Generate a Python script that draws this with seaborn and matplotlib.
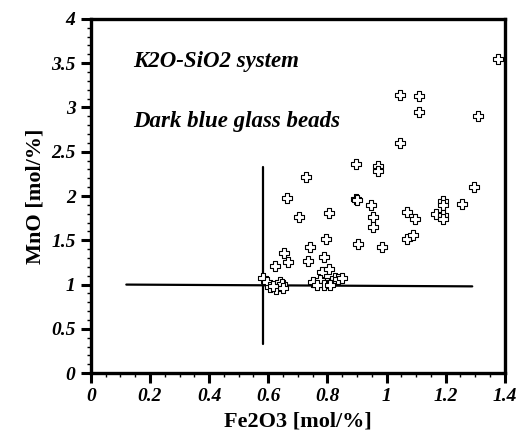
import matplotlib
matplotlib.use("Agg")
import matplotlib.pyplot as plt
import seaborn as sns
import pandas as pd
from matplotlib.ticker import MultipleLocator, FixedLocator

fe2o3 = [1.376, 1.045, 1.11, 1.11, 1.31, 1.047, 0.898, 0.97, 0.97, 0.729,
         0.664, 0.898, 0.90, 0.949, 1.295, 1.257, 1.19, 1.19, 1.166, 1.19,
         1.19, 0.705, 0.807, 0.956, 0.956, 1.068, 1.098, 0.797, 0.905, 0.986,
         1.068, 1.088, 0.742, 0.654, 0.668, 0.624, 0.736, 0.787, 0.783, 0.807,
         0.583, 0.596, 0.607, 0.627, 0.64, 0.647, 0.65, 0.617, 0.753, 0.776,
         0.80, 0.817, 0.827, 0.837, 0.85, 0.79, 0.81, 0.765]
mno = [3.55, 3.14, 3.13, 2.95, 2.90, 2.60, 2.36, 2.34, 2.28, 2.21,
       1.98, 1.97, 1.95, 1.90, 2.10, 1.91, 1.94, 1.90, 1.80, 1.78,
       1.74, 1.76, 1.81, 1.76, 1.65, 1.82, 1.74, 1.51, 1.46, 1.42,
       1.51, 1.56, 1.42, 1.36, 1.25, 1.21, 1.27, 1.31, 1.14, 1.18,
       1.08, 1.03, 0.97, 0.95, 1.03, 1.01, 0.96, 0.98, 1.03, 1.05,
       1.02, 1.03, 1.08, 1.06, 1.07, 1.00, 0.99, 1.00]

hline_x = [0.12, 1.29]
hline_y = [1.0, 0.98]
vline_x = [0.583, 0.583]
vline_y = [0.33, 2.33]

xticks = [0, 0.2, 0.4, 0.6, 0.8, 1.0, 1.2, 1.4]
xticklabels = ["0", "0.2", "0.4", "0.6", "0.8", "1", "1.2", "1.4"]
yticks = [0, 0.5, 1, 1.5, 2, 2.5, 3, 3.5, 4]
yticklabels = ["0", "0.5", "1", "1.5", "2", "2.5", "3", "3.5", "4"]

sns.set_style("ticks", {"axes.edgecolor": "black", "xtick.color": "black",
                        "ytick.color": "black", "text.color": "black",
                        "axes.labelcolor": "black"})
plt.rcParams['font.family'] = ['Liberation Serif', 'DejaVu Serif']

df = pd.DataFrame({"Fe2O3": fe2o3, "MnO": mno})

fig = plt.figure(figsize=(5.22, 4.38), dpi=100)
ax = fig.add_axes([0.174, 0.148, 0.793, 0.809])

sns.scatterplot(data=df, x="Fe2O3", y="MnO", marker="P", s=55,
                facecolor="white", edgecolor="black", linewidth=0.8, ax=ax, zorder=3)

ax.plot(hline_x, hline_y, color="black", lw=1.6, zorder=2)
ax.plot(vline_x, vline_y, color="black", lw=1.6, zorder=2)

ax.set_xlim(0, 1.4)
ax.set_ylim(0, 4)
ax.xaxis.set_major_locator(FixedLocator(xticks))
ax.yaxis.set_major_locator(FixedLocator(yticks))
ax.set_xticklabels(xticklabels, fontsize=14, fontweight="bold", fontstyle="italic")
ax.set_yticklabels(yticklabels, fontsize=14, fontweight="bold", fontstyle="italic")
ax.xaxis.set_minor_locator(MultipleLocator(0.05))
ax.yaxis.set_minor_locator(MultipleLocator(0.1))
ax.tick_params(which="major", direction="out", length=7, width=2.2, pad=4,
               colors="black")
ax.tick_params(which="minor", direction="out", length=3, width=1, colors="black")

for sp in ax.spines.values():
    sp.set_linewidth(2.4)
    sp.set_visible(True)
    sp.set_color("black")

ax.set_xlabel("Fe2O3 [mol/%]", fontsize=16, fontweight="bold", labelpad=4,
              color="black")
ax.set_ylabel("MnO [mol/%]", fontsize=16, fontweight="bold", labelpad=4,
              color="black")

ax.text(0.143, 3.52, "K2O-SiO2 system", fontsize=16.5, fontweight="bold",
        fontstyle="italic", va="center", ha="left", color="black")
ax.text(0.143, 2.84, "Dark blue glass beads", fontsize=16.5, fontweight="bold",
        fontstyle="italic", va="center", ha="left", color="black")

fig.savefig("out.png", dpi=100)
